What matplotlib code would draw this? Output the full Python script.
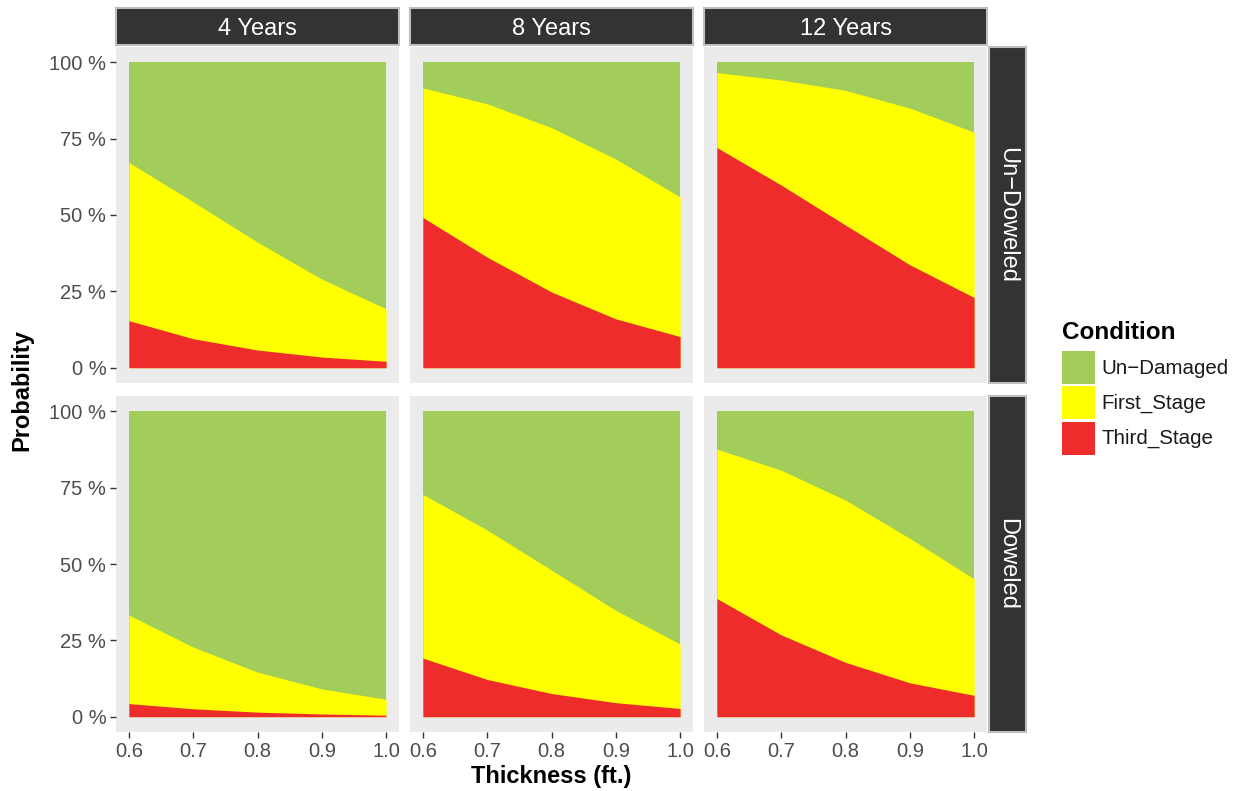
import matplotlib
matplotlib.use('Agg')
from matplotlib import pyplot as plt
from matplotlib.patches import Rectangle
import numpy as np

plt.rcParams['font.family'] = ['Liberation Sans', 'DejaVu Sans']

thickness = [0.6, 0.7, 0.8, 0.9, 1.0]
years = ['4 Years', '8 Years', '12 Years']
dowel = ['Un\u2212Doweled', 'Doweled']
conditions = ['Un\u2212Damaged', 'First_Stage', 'Third_Stage']
colors = ['#A2CD5A', '#FFFF00', '#EE2C2C']

# Third_Stage probability per panel (row = dowel, col = years)
third_undoweled_4 = [0.154, 0.095, 0.058, 0.035, 0.021]
third_undoweled_8 = [0.492, 0.362, 0.248, 0.160, 0.102]
third_undoweled_12 = [0.721, 0.598, 0.467, 0.337, 0.230]
third_doweled_4 = [0.043, 0.026, 0.015, 0.009, 0.005]
third_doweled_8 = [0.192, 0.122, 0.076, 0.046, 0.027]
third_doweled_12 = [0.387, 0.268, 0.178, 0.111, 0.070]

# First_Stage probability
first_undoweled_4 = [0.518, 0.448, 0.353, 0.255, 0.172]
first_undoweled_8 = [0.424, 0.502, 0.538, 0.523, 0.457]
first_undoweled_12 = [0.245, 0.344, 0.441, 0.513, 0.541]
first_doweled_4 = [0.290, 0.202, 0.131, 0.082, 0.052]
first_doweled_8 = [0.536, 0.489, 0.404, 0.302, 0.211]
first_doweled_12 = [0.489, 0.539, 0.531, 0.473, 0.381]

third = [[third_undoweled_4, third_undoweled_8, third_undoweled_12],
         [third_doweled_4, third_doweled_8, third_doweled_12]]
first = [[first_undoweled_4, first_undoweled_8, first_undoweled_12],
         [first_doweled_4, first_doweled_8, first_doweled_12]]

W, H = 1234, 791
fig = plt.figure(figsize=(W / 100, H / 100), dpi=100)


def px_axes(x0, y0, x1, y1, **kw):
    return fig.add_axes([x0 / W, 1 - y1 / H, (x1 - x0) / W, (y1 - y0) / H], **kw)


col_x = [(116, 399), (410, 693), (704, 987)]
row_y = [(47, 383), (396, 732)]
tick_color = '#4D4D4D'

for r in range(2):
    for c in range(3):
        ax = px_axes(col_x[c][0], row_y[r][0], col_x[c][1], row_y[r][1])
        ax.set_facecolor('#EBEBEB')
        x = np.array(thickness)
        t = np.array(third[r][c])
        f = t + np.array(first[r][c])
        ax.fill_between(x, 0, 1, color=colors[0], lw=0, zorder=2)
        ax.fill_between(x, 0, f, color=colors[1], lw=0, zorder=3)
        ax.fill_between(x, 0, t, color=colors[2], lw=0, zorder=4)
        ax.set_xlim(0.58, 1.02)
        ax.set_ylim(-0.05, 1.05)
        ax.set_xticks(thickness)
        ax.set_yticks([0, 0.25, 0.5, 0.75, 1.0])
        for s in ax.spines.values():
            s.set_visible(False)
        ax.tick_params(length=4, width=1, color='#333333', labelcolor=tick_color,
                       labelsize=14.5, pad=3)
        if c == 0:
            ax.set_yticklabels(['0 %', '25 %', '50 %', '75 %', '100 %'])
        else:
            ax.tick_params(axis='y', left=False, labelleft=False)
        if r == 1:
            ax.set_xticklabels(['0.6', '0.7', '0.8', '0.9', '1.0'])
        else:
            ax.tick_params(axis='x', bottom=False, labelbottom=False)

# top strips
for c in range(3):
    sx = px_axes(col_x[c][0], 8, col_x[c][1], 45)
    sx.set_xticks([]); sx.set_yticks([])
    sx.set_facecolor('#333333')
    for s in sx.spines.values():
        s.set_color('#BEBEBE'); s.set_linewidth(1.5)
    sx.text(0.5, 0.43, years[c], color='white', fontsize=17, ha='center', va='center',
            transform=sx.transAxes)

# right strips
for r in range(2):
    sx = px_axes(989, row_y[r][0], 1026, row_y[r][1])
    sx.set_xticks([]); sx.set_yticks([])
    sx.set_facecolor('#333333')
    for s in sx.spines.values():
        s.set_color('#BEBEBE'); s.set_linewidth(1.5)
    sx.text(0.5, 0.5, dowel[r], color='white', fontsize=17, ha='center', va='center',
            rotation=-90, transform=sx.transAxes)

fig.text(551 / W, 1 - 776 / H, 'Thickness (ft.)', fontsize=17, fontweight='bold',
         ha='center', va='center')
fig.text(22 / W, 1 - 390 / H, 'Probability', fontsize=17, fontweight='bold',
         ha='center', va='center', rotation=90)

# legend
fig.text(1062 / W, 1 - 333 / H, 'Condition', fontsize=17.5, fontweight='bold',
         ha='left', va='center')
for i, (lab, col) in enumerate(zip(conditions, colors)):
    y0 = 351 + i * 35.3
    fig.patches.append(Rectangle((1062 / W, 1 - (y0 + 33) / H), 33 / W, 33 / H,
                                 transform=fig.transFigure, color=col, lw=0))
    fig.text(1101 / W, 1 - (y0 + 17) / H, lab, fontsize=14.8, ha='left', va='center',
             color='#1A1A1A')

fig.savefig('out.png', dpi=100, facecolor='white')
